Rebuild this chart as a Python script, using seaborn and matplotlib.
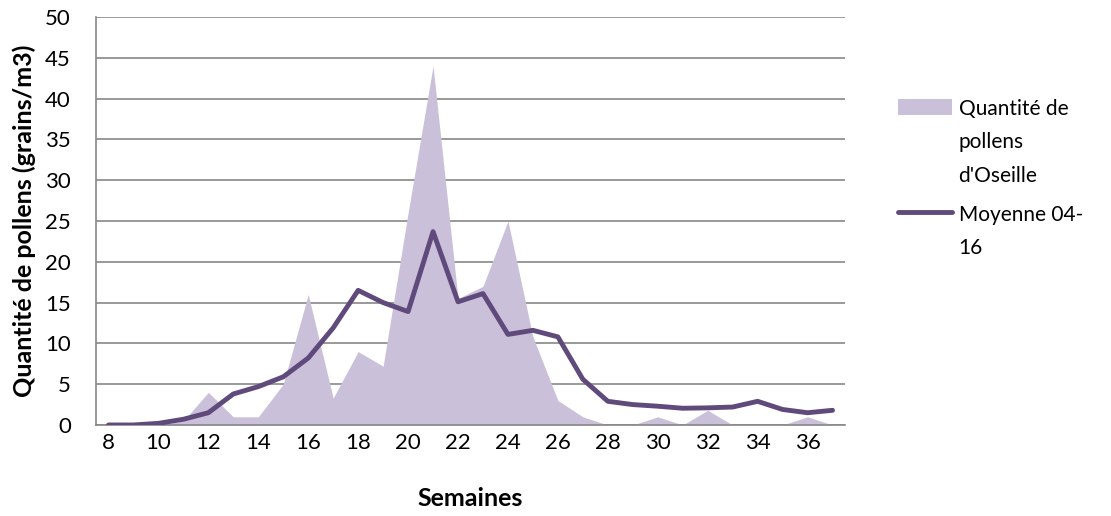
import matplotlib
matplotlib.use('Agg')
import matplotlib.pyplot as plt
import pandas as pd
import seaborn as sns

# Weekly values
weeks = list(range(8, 38))
pollen_oseille = [0, 0, 0, 0.5, 4, 1, 1, 5, 16, 3.3, 9, 7.2, 26, 44, 15.5,
                  17, 25, 10.8, 3, 1, 0, 0, 1, 0, 1.8, 0, 0, 0, 1, 0]
moyenne_04_16 = [0, 0, 0.2, 0.7, 1.5, 3.8, 4.7, 5.9, 8.2, 11.9, 16.5, 15.0, 13.9,
                 23.7, 15.1, 16.1, 11.1, 11.6, 10.8, 5.6, 2.9, 2.5, 2.3, 2.05,
                 2.1, 2.2, 2.9, 1.9, 1.5, 1.8]
y_ticks = list(range(0, 51, 5))
x_labels = list(range(8, 37, 2))

df = pd.DataFrame({'Semaine': weeks, 'Pollen': pollen_oseille, 'Moyenne': moyenne_04_16})

sns.set_style('white')
plt.rcParams['font.family'] = ['Lato', 'DejaVu Sans']
plt.rcParams['text.color'] = 'black'
plt.rcParams['axes.labelcolor'] = 'black'

area_color = '#CBC0DA'
line_color = '#604A7B'
grid_color = '#888888'

fig = plt.figure(figsize=(11.11, 5.16), dpi=100)
ax = fig.add_axes([0.0864, 0.1764, 0.6742, 0.7906])

ax.fill_between(df['Semaine'], df['Pollen'], 0, color=area_color, linewidth=0,
                label="Quantité de\npollens\nd'Oseille", zorder=2)
sns.lineplot(data=df, x='Semaine', y='Moyenne', ax=ax, color=line_color,
             linewidth=3.5, label='Moyenne 04-\n16', zorder=3,
             solid_capstyle='round', solid_joinstyle='round')

ax.set_xlim(7.5, 37.5)
ax.set_ylim(0, 50)
ax.set_yticks(y_ticks)
ax.set_xticks(x_labels)
ax.set_xticks([w - 0.5 for w in weeks] + [37.5], minor=True)
ax.tick_params(axis='x', which='major', length=0, pad=6, labelsize=16, labelcolor='black')
ax.tick_params(axis='x', which='minor', length=7, width=1, color=grid_color, direction='out')
ax.tick_params(axis='y', length=7, width=1, color=grid_color, direction='out',
               pad=11, labelsize=16, labelcolor='black')

ax.grid(axis='y', color=grid_color, linewidth=1.2, zorder=0)
ax.set_axisbelow(True)
for s in ['top', 'right']:
    ax.spines[s].set_visible(False)
for s in ['left', 'bottom']:
    ax.spines[s].set_color(grid_color)
    ax.spines[s].set_linewidth(1.2)

ax.set_xlabel('Semaines', fontsize=18, fontweight='bold', labelpad=24)
ax.set_ylabel('Quantité de pollens (grains/m3)', fontsize=18, fontweight='bold', labelpad=7)

leg = ax.legend(loc='upper left', bbox_to_anchor=(1.071, 0.80), frameon=False,
                fontsize=15, handlelength=2.6, handleheight=0.8, handletextpad=0.3,
                labelspacing=0.9, borderpad=0, borderaxespad=0)
for t in leg.get_texts():
    t.set_linespacing(1.85)
# put each legend key next to the first line of its label
for col in leg._legend_handle_box.get_children():
    for row in col.get_children():
        row.align = 'top'

plt.savefig('out.png', dpi=100)
